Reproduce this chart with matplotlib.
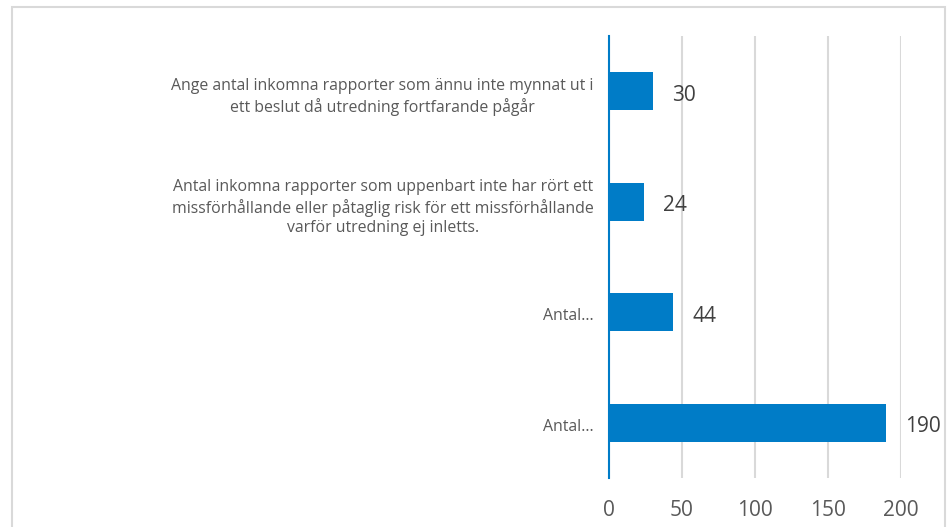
import matplotlib
matplotlib.use('agg')
import matplotlib.pyplot as plt
from matplotlib.patches import Rectangle
from matplotlib.transforms import ScaledTranslation

categories = [
    "Ange antal inkomna rapporter som ännu inte mynnat ut i\nett beslut då utredning fortfarande pågår",
    "Antal inkomna rapporter som uppenbart inte har rört ett\nmissförhållande eller påtaglig risk för ett missförhållande\nvarför utredning ej inletts.",
    "Antal...",
    "Antal...",
]
values = [30, 24, 44, 190]
xticks = [0, 50, 100, 150, 200]

bar_color = '#007CC7'
grid_color = '#D9D9D9'
plt.rcParams['font.family'] = ['Open Sans', 'DejaVu Sans']

fig = plt.figure(figsize=(9.49, 5.27), dpi=100)
ax = fig.add_axes([609/949, 1 - 478/527, 292/949, 442/527])

# outer border
fig.patches.append(Rectangle((12/949, -0.05), 933/949, 1.05 - 7/527,
                             transform=fig.transFigure, fill=False,
                             edgecolor=grid_color, linewidth=1.5))

ypos = list(range(len(values)))
ax.barh(ypos, values, height=0.345, color=bar_color, zorder=3)
ax.set_ylim(len(values) - 0.5, -0.5)
ax.set_xlim(0, 200)

for y, v in zip(ypos, values):
    ax.annotate(str(v), (v, y), xytext=(19, -4), textcoords='offset pixels',
                va='center', ha='left', fontsize=15, color='#404040')

ax.set_yticks(ypos)
ax.set_yticklabels(categories, fontsize=11.4, color='#595959', ha='right',
                   multialignment='center', linespacing=1.3)
ax.tick_params(axis='y', length=0, pad=11)
shift = ScaledTranslation(0, -2/100, fig.dpi_scale_trans)
for lbl in ax.get_yticklabels():
    lbl.set_transform(lbl.get_transform() + shift)
ax.set_xticks(xticks)
ax.set_xticklabels([str(t) for t in xticks], fontsize=15, color='#595959')
ax.tick_params(axis='x', length=0, pad=16)

ax.grid(axis='x', color=grid_color, linewidth=1.5, zorder=0)
for s in ['top', 'right', 'bottom']:
    ax.spines[s].set_visible(False)
ax.spines['left'].set_color(bar_color)
ax.spines['left'].set_linewidth(1.5)
ax.spines['left'].set_zorder(4)

fig.savefig('out.png', dpi=100)
